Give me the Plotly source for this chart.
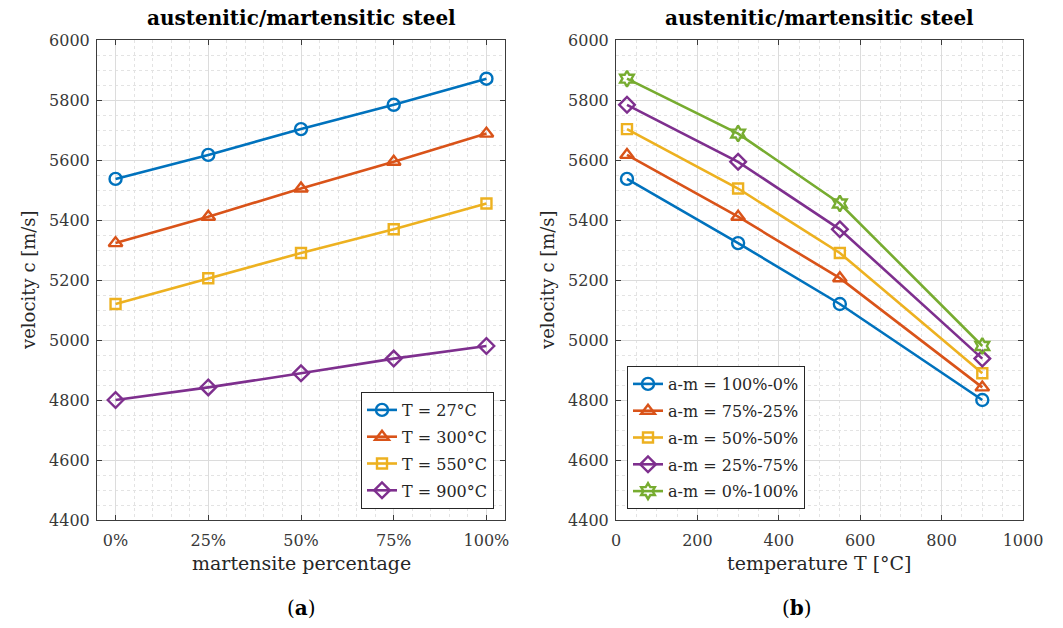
import plotly.graph_objects as go

# ---- data ----
martensite = [0, 0.25, 0.5, 0.75, 1.0]
martensite_labels = ["0%", "25%", "50%", "75%", "100%"]
temperatures = [27, 300, 550, 900]
temp_labels = ["T = 27°C", "T = 300°C", "T = 550°C", "T = 900°C"]

v_T27 = [5537, 5617, 5703, 5784, 5871]
v_T300 = [5323, 5411, 5505, 5594, 5688]
v_T550 = [5120, 5206, 5290, 5369, 5455]
v_T900 = [4800, 4842, 4889, 4938, 4980]

am_labels = ["a-m = 100%-0%", "a-m = 75%-25%", "a-m = 50%-50%", "a-m = 25%-75%", "a-m = 0%-100%"]

colors = ["#0072BD", "#D95319", "#EDB120", "#7E2F8E", "#77AC30"]
symbols = ["circle-open", "triangle-up-open", "square-open", "diamond-open", "hexagram-open"]
msizes = [12, 12, 10, 12, 12]

FONT = "DejaVu Serif"
TXT = "#262626"
AX = "#3c3c3c"

fig = go.Figure()

by_temp = [v_T27, v_T300, v_T550, v_T900]
for i, (vals, name) in enumerate(zip(by_temp, temp_labels)):
    fig.add_trace(go.Scatter(
        x=martensite, y=vals, name=name, mode="lines+markers",
        line=dict(color=colors[i], width=2.6),
        marker=dict(symbol=symbols[i], size=msizes[i], color=colors[i],
                    line=dict(width=2.4, color=colors[i])),
        xaxis="x", yaxis="y", legend="legend", legendgroup="a%d" % i))

for j, name in enumerate(am_labels):
    vals = [series[j] for series in by_temp]
    fig.add_trace(go.Scatter(
        x=temperatures, y=vals, name=name, mode="lines+markers",
        line=dict(color=colors[j], width=2.6),
        marker=dict(symbol=symbols[j], size=msizes[j], color=colors[j],
                    line=dict(width=2.4, color=colors[j])),
        xaxis="x2", yaxis="y2", legend="legend2", legendgroup="b%d" % j))

W, H = 1063, 628
L1, R1 = 97, 505
L2, R2 = 616, 1023
T, B = 40, 520

def px(x):
    return x / W

def py(y):
    return (H - y) / H

common_axis = dict(
    showline=True, linecolor=AX, linewidth=1, mirror="ticks",
    ticks="inside", ticklen=5, tickcolor=AX, tickwidth=1,
    showgrid=True, gridcolor="#dcdcdc", gridwidth=1,
    zeroline=False, automargin=False,
    tickfont=dict(family=FONT, size=16, color="#383838"),
)
minor_style = dict(showgrid=True, gridcolor="#e3e3e3", griddash="dot", gridwidth=1, ticks="")

fig.update_layout(
    width=W, height=H, autosize=False,
    margin=dict(l=0, r=0, t=0, b=0, pad=0, autoexpand=False),
    paper_bgcolor="white", plot_bgcolor="white",
    font=dict(family=FONT, color=TXT),
    xaxis=dict(domain=[px(L1), px(R1)], range=[-0.05, 1.05],
               tickmode="array", tickvals=martensite, ticktext=martensite_labels,
               minor=dict(dtick=0.05, tick0=0, **minor_style),
               anchor="y", ticklabelstandoff=6, **common_axis),
    yaxis=dict(domain=[py(B), py(T)], range=[4400, 6000], dtick=200,
               minor=dict(dtick=50, tick0=0, **minor_style),
               anchor="x", ticklabelstandoff=3, **common_axis),
    xaxis2=dict(domain=[px(L2), px(R2)], range=[0, 1000], dtick=200,
                minor=dict(dtick=50, tick0=0, **minor_style),
                anchor="y2", ticklabelstandoff=6, **common_axis),
    yaxis2=dict(domain=[py(B), py(T)], range=[4400, 6000], dtick=200,
                minor=dict(dtick=50, tick0=0, **minor_style),
                anchor="x2", ticklabelstandoff=3, **common_axis),
    legend=dict(x=px(494), y=py(509), xanchor="right", yanchor="bottom",
                bgcolor="white", bordercolor="#262626", borderwidth=1,
                font=dict(family=FONT, size=16, color=TXT), tracegroupgap=3),
    legend2=dict(x=px(627), y=py(509), xanchor="left", yanchor="bottom",
                 bgcolor="white", bordercolor="#262626", borderwidth=1,
                 font=dict(family=FONT, size=16, color=TXT), tracegroupgap=3),
    showlegend=True,
)

def note(text, x, y, size, color=TXT, angle=0):
    return dict(text=text, x=px(x), y=py(y), xref="paper", yref="paper",
                xanchor="center", yanchor="middle", showarrow=False, textangle=angle,
                font=dict(family=FONT, size=size, color=color))

ann = []
for cx in [(L1 + R1) / 2, (L2 + R2) / 2]:
    ann.append(note("<b>austenitic/martensitic steel</b>", cx, 18, 20, "black"))
ann.append(note("martensite percentage", (L1 + R1) / 2, 563, 19))
ann.append(note("temperature T [°C]", (L2 + R2) / 2, 563, 19))
for cx in [28, 547]:
    ann.append(note("velocity c [m/s]", cx, (T + B) / 2, 18, angle=-90))
ann.append(note("(<b>a</b>)", 301, 608, 20, "black"))
ann.append(note("(<b>b</b>)", 797, 608, 20, "black"))
fig.update_layout(annotations=ann)

fig.write_html("out.html", config={"displayModeBar": False},
               post_script="document.body.style.margin='0';document.body.style.padding='0';")
